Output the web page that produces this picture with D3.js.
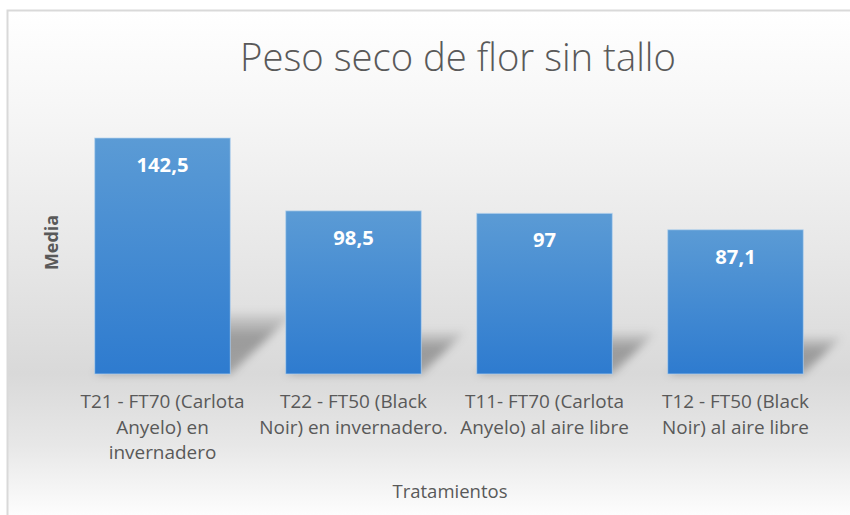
<!DOCTYPE html>
<html lang="es">
<head>
    <meta charset="UTF-8">
    <title>Peso seco de flor sin tallo</title>
    <script src="https://cdn.jsdelivr.net/npm/d3@7/dist/d3.min.js"></script>
    <style>
        body { margin: 0; background: #fff; }
        svg { display: block; font-family: "Open Sans", "Noto Sans", sans-serif; }
    </style>
</head>
<body>
<svg width="850" height="515"></svg>
<script>
    // datos
    const categorias = [
        "T21 - FT70 (Carlota\nAnyelo) en\ninvernadero",
        "T22 - FT50 (Black\nNoir) en invernadero.",
        "T11- FT70 (Carlota\nAnyelo) al aire libre",
        "T12 - FT50 (Black\nNoir) al aire libre"
    ];
    const medias = [142.5, 98.5, 97, 87.1];
    const titulo = "Peso seco de flor sin tallo";
    const tituloX = "Tratamientos";
    const tituloY = "Media";

    const width = 850, height = 515;
    const svg = d3.select("svg");
    const defs = svg.append("defs");

    // fondo degradado tipo Excel
    const bg = defs.append("linearGradient")
        .attr("id", "bg")
        .attr("gradientUnits", "userSpaceOnUse")
        .attr("x1", 0).attr("y1", 10).attr("x2", 0).attr("y2", 515);
    [[0, "#ffffff"], [0.18, "#f7f7f7"], [0.47, "#e8e8e8"], [0.72, "#d9d9d9"],
     [0.86, "#e7e7e7"], [1, "#fdfdfd"]].forEach(([o, c]) =>
        bg.append("stop").attr("offset", o).attr("stop-color", c));

    const barGrad = defs.append("linearGradient")
        .attr("id", "bar")
        .attr("x1", 0).attr("y1", 0).attr("x2", 0).attr("y2", 1);
    barGrad.append("stop").attr("offset", 0).attr("stop-color", "#5b9bd5");
    barGrad.append("stop").attr("offset", 1).attr("stop-color", "#2e7bcf");

    const shGrad = defs.append("linearGradient")
        .attr("id", "sh")
        .attr("x1", 0).attr("y1", 0).attr("x2", 0).attr("y2", 1);
    shGrad.append("stop").attr("offset", 0).attr("stop-color", "#000").attr("stop-opacity", 0.05);
    shGrad.append("stop").attr("offset", 0.4).attr("stop-color", "#000").attr("stop-opacity", 0.3);
    shGrad.append("stop").attr("offset", 1).attr("stop-color", "#000").attr("stop-opacity", 0.26);

    defs.append("filter").attr("id", "blur")
        .attr("x", "-50%").attr("y", "-50%").attr("width", "200%").attr("height", "200%")
        .append("feGaussianBlur").attr("stdDeviation", 4);

    svg.append("rect")
        .attr("x", 7.5).attr("y", 10.5)
        .attr("width", width).attr("height", height)
        .attr("fill", "url(#bg)")
        .attr("stroke", "#d9d9d9")
        .attr("stroke-width", 2);

    const x = d3.scaleBand()
        .domain(categorias)
        .range([67, 831])
        .paddingInner(0.29)
        .paddingOuter(0.145);

    const y = d3.scaleLinear()
        .domain([0, 160])
        .range([374, 109]);

    // sombra en perspectiva detrás de cada barra
    const sombra = (d, i) => {
        const x0 = x(categorias[i]), x1 = x0 + x.bandwidth();
        const h = (y(0) - y(d)) * 0.26, dx = h * 1.05;
        return `M${x0},${y(0)}L${x1},${y(0)}L${x1 + dx},${y(0) - h}L${x0 + dx},${y(0) - h}Z`;
    };
    svg.append("g")
        .attr("filter", "url(#blur)")
        .selectAll("path")
        .data(medias)
        .join("path")
        .attr("d", sombra)
        .attr("fill", "url(#sh)");

    svg.append("g")
        .selectAll("rect")
        .data(medias)
        .join("rect")
        .attr("x", (d, i) => x(categorias[i]))
        .attr("y", d => y(d))
        .attr("width", x.bandwidth())
        .attr("height", d => y(0) - y(d))
        .attr("fill", "url(#bar)")
        .attr("stroke", "#b9d4ee")
        .attr("stroke-opacity", 0.7)
        .attr("stroke-width", 1);

    // ajusta el tamaño de letra a un ancho medido en la imagen
    function ajustar(sel, objetivo) {
        const fs = parseFloat(sel.attr("font-size"));
        const w = sel.node().getComputedTextLength();
        const nuevo = fs * objetivo / w;
        sel.attr("font-size", nuevo);
        return nuevo;
    }

    const loc = d3.formatLocale({decimal: ",", thousands: ".", grouping: [3], currency: ["", "€"]});
    const fmt = loc.format(".1~f");

    const etiquetas = svg.append("g")
        .attr("text-anchor", "middle")
        .attr("fill", "#ffffff")
        .attr("font-weight", "bold")
        .selectAll("text")
        .data(medias)
        .join("text")
        .attr("x", (d, i) => x(categorias[i]) + x.bandwidth() / 2)
        .attr("y", d => y(d) + 34)
        .attr("font-size", 18)
        .text(d => fmt(d));
    const fsVal = ajustar(d3.select(etiquetas.nodes()[0]), 52);
    etiquetas.attr("font-size", fsVal);

    // eje x (sin línea), etiquetas en varias líneas
    const ejeX = svg.append("g")
        .attr("transform", `translate(0,${y(0)})`)
        .call(d3.axisBottom(x).tickSize(0).tickFormat(""));
    ejeX.select(".domain").remove();

    const cat = svg.append("g")
        .attr("text-anchor", "middle")
        .attr("fill", "#595959")
        .selectAll("text")
        .data(categorias)
        .join("text")
        .attr("x", d => x(d) + x.bandwidth() / 2)
        .attr("y", 408)
        .attr("font-size", 17);
    cat.selectAll("tspan")
        .data(d => d.split("\n"))
        .join("tspan")
        .attr("x", function() { return this.parentNode.getAttribute("x"); })
        .attr("dy", (d, i) => i ? 25.5 : 0)
        .text(d => d);
    const primera = d3.select(cat.nodes()[0]).select("tspan");
    const fsCatW = primera.node().getComputedTextLength();
    const fsCat = 17 * 164 / fsCatW;
    cat.attr("font-size", fsCat);

    const t = svg.append("text")
        .attr("x", 458).attr("y", 71)
        .attr("text-anchor", "middle")
        .attr("fill", "#595959")
        .attr("font-weight", 300)
        .attr("font-size", 36)
        .text(titulo);
    ajustar(t, 436);

    const tx = svg.append("text")
        .attr("x", 450).attr("y", 498)
        .attr("text-anchor", "middle")
        .attr("fill", "#595959")
        .attr("font-size", 17)
        .text(tituloX);
    ajustar(tx, 115);

    const ty = svg.append("text")
        .attr("transform", "translate(58,242.5) rotate(-90)")
        .attr("text-anchor", "middle")
        .attr("fill", "#595959")
        .attr("font-weight", "bold")
        .attr("font-size", 15)
        .text(tituloY);
    ajustar(ty, 55);
</script>
</body>
</html>
